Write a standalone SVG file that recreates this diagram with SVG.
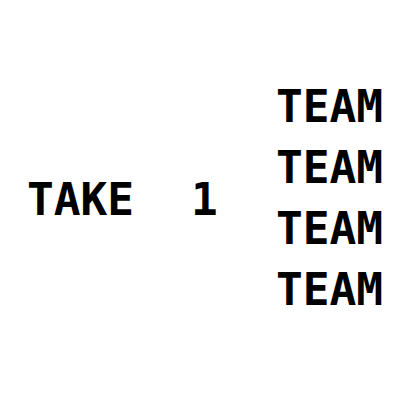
<svg xmlns="http://www.w3.org/2000/svg" width="400" height="400" viewBox="0 0 400 400">
<style>
text{font-family:"DejaVu Sans Mono",monospace;font-weight:bold;font-size:44.5px;fill:#000}
</style>
<rect width="400" height="400" fill="#fff"/>
<g id="take"><text x="27" y="215">TAKE</text></g>
<g id="one"><text x="191" y="215">1</text></g>
<g id="team1"><text x="276" y="122">TEAM</text></g>
<g id="team2"><text x="276" y="183">TEAM</text></g>
<g id="team3"><text x="276" y="244">TEAM</text></g>
<g id="team4"><text x="276" y="305">TEAM</text></g>
<g id="connectors"></g>
</svg>
